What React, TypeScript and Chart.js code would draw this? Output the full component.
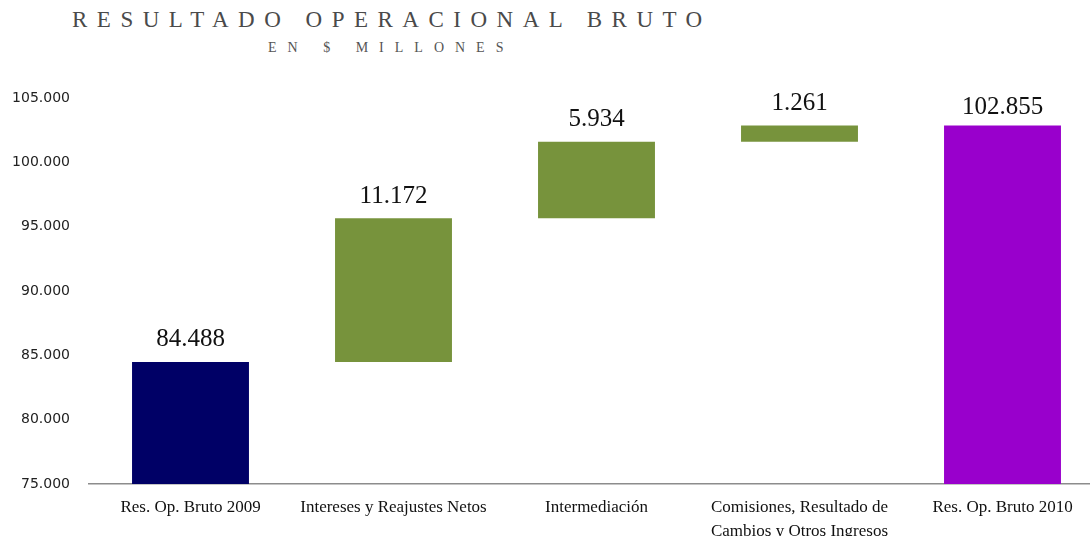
import React, { useEffect, useRef } from "react";
import { Chart, registerables } from "chart.js";

Chart.register(...registerables);

const categories: (string | string[])[] = [
  "Res. Op. Bruto 2009",
  "Intereses y Reajustes Netos",
  "Intermediación",
  ["Comisiones, Resultado de", "Cambios y Otros Ingresos"],
  "Res. Op. Bruto 2010",
];
const startTotal = 84488;
const deltas = [11172, 5934, 1261];
const endTotal = 102855;
const barColors = ["#000066", "#77933C", "#77933C", "#77933C", "#9900CC"];
const yMin = 75000;
const yMax = 105000;
const yStep = 5000;

const fmt = (v: number) => String(Math.round(v)).replace(/\B(?=(\d{3})+(?!\d))/g, ".");

function buildData() {
  const data: [number, number][] = [[0, startTotal]];
  const labels: number[] = [startTotal];
  let run = startTotal;
  for (const d of deltas) {
    data.push([run, run + d]);
    labels.push(d);
    run += d;
  }
  data.push([0, endTotal]);
  labels.push(endTotal);
  return { data, labels };
}

export default function App() {
  const ref = useRef<HTMLCanvasElement | null>(null);
  useEffect(() => {
    if (!ref.current) return;
    const { data, labels } = buildData();
    const valueLabels = {
      id: "valueLabels",
      afterDatasetsDraw(chart: any) {
        const ctx = chart.ctx;
        const meta = chart.getDatasetMeta(0);
        ctx.save();
        ctx.font = '25px "Liberation Serif"';
        ctx.fillStyle = "#111111";
        ctx.textAlign = "center";
        ctx.textBaseline = "middle";
        meta.data.forEach((el: any, i: number) => {
          const off = i === meta.data.length - 1 ? 18 : 22;
          ctx.fillText(fmt(labels[i]), el.x, el.y - off);
        });
        ctx.restore();
      },
    };
    const chart = new Chart(ref.current, {
      type: "bar",
      data: {
        labels: categories,
        datasets: [
          {
            data: data as any,
            backgroundColor: barColors,
            borderWidth: 0,
            barPercentage: 0.576,
            categoryPercentage: 1,
          },
        ],
      },
      options: {
        responsive: false,
        animation: false,
        layout: { padding: { top: 98, left: 0, right: 0, bottom: 0 } },
        plugins: { legend: { display: false }, tooltip: { enabled: false }, title: { display: false } },
        scales: {
          x: {
            grid: { display: false, drawTicks: false },
            border: { display: true, color: "#8c8c8c", width: 1.5 },
            ticks: {
              color: "#111111",
              padding: 12,
              maxRotation: 0,
              autoSkip: false,
              font: { family: '"Liberation Serif"', size: 17, lineHeight: 1.38 },
            },
            afterFit: (s: any) => {
              s.height = 52;
            },
          },
          y: {
            min: yMin,
            max: yMax,
            grid: { display: false, drawTicks: false },
            border: { display: false },
            ticks: {
              stepSize: yStep,
              padding: 19,
              color: "#222222",
              font: { family: '"DejaVu Sans"', size: 14 },
              callback: (v: any) => fmt(Number(v)),
            },
            afterFit: (s: any) => {
              s.width = 89;
            },
          },
        },
      },
      plugins: [valueLabels],
    });
    return () => chart.destroy();
  }, []);

  return (
    <div style={{ position: "fixed", left: 0, top: 0, width: 1090, height: 536, overflow: "hidden", background: "#fff" }}>
      <div
        style={{
          position: "absolute",
          left: 72,
          top: 6,
          fontFamily: '"Liberation Serif"',
          fontSize: 23,
          letterSpacing: 9.5,
          color: "#4a4a4a",
          whiteSpace: "pre",
          lineHeight: "28px",
        }}
      >
        RESULTADO OPERACIONAL BRUTO
      </div>
      <div
        style={{
          position: "absolute",
          left: 268,
          top: 38,
          fontFamily: '"Liberation Serif"',
          fontSize: 14,
          letterSpacing: 11,
          color: "#555555",
          whiteSpace: "pre",
          lineHeight: "20px",
        }}
      >
        EN $ MILLONES
      </div>
      <canvas ref={ref} width={1104} height={536} style={{ position: "absolute", left: 0, top: 0 }} />
    </div>
  );
}
